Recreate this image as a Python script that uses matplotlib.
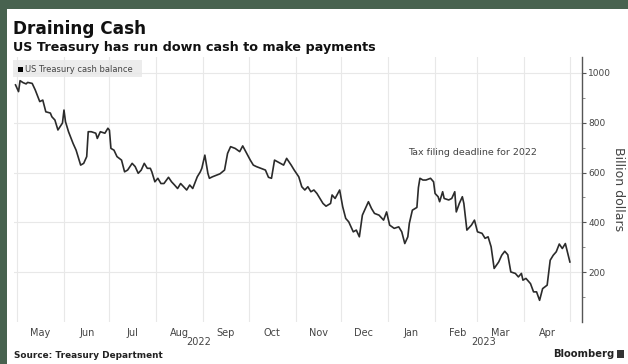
import matplotlib
matplotlib.use("Agg")
import matplotlib.pyplot as plt
import matplotlib.dates as mdates
import matplotlib.ticker as mticker
from matplotlib.patches import Rectangle
from matplotlib.transforms import blended_transform_factory
import pandas as pd

title = "Draining Cash"
subtitle = "US Treasury has run down cash to make payments"
series_name = "US Treasury cash balance"
source = "Source: Treasury Department"
brand = "Bloomberg"
annotation = "Tax filing deadline for 2022"
y_label = "Billion dollars"

dates = [
    "2022-04-30", "2022-05-02", "2022-05-03", "2022-05-05", "2022-05-07", "2022-05-08",
    "2022-05-11", "2022-05-13", "2022-05-16", "2022-05-18", "2022-05-20", "2022-05-23",
    "2022-05-24", "2022-05-26", "2022-05-28", "2022-05-31", "2022-06-01", "2022-06-02",
    "2022-06-04", "2022-06-07", "2022-06-09", "2022-06-12", "2022-06-14", "2022-06-16",
    "2022-06-17", "2022-06-19", "2022-06-22", "2022-06-23", "2022-06-25", "2022-06-28",
    "2022-06-30", "2022-07-01", "2022-07-02", "2022-07-04", "2022-07-06", "2022-07-09",
    "2022-07-11", "2022-07-13", "2022-07-16", "2022-07-18", "2022-07-20", "2022-07-22",
    "2022-07-24", "2022-07-26", "2022-07-28", "2022-07-29", "2022-07-31", "2022-08-02",
    "2022-08-04", "2022-08-06", "2022-08-09", "2022-08-11", "2022-08-13", "2022-08-15",
    "2022-08-17", "2022-08-19", "2022-08-21", "2022-08-23", "2022-08-25", "2022-08-28",
    "2022-08-30", "2022-08-31", "2022-09-02", "2022-09-04", "2022-09-05", "2022-09-07",
    "2022-09-10", "2022-09-12", "2022-09-15", "2022-09-17", "2022-09-19", "2022-09-22",
    "2022-09-25", "2022-09-27", "2022-09-29", "2022-10-02", "2022-10-04", "2022-10-06",
    "2022-10-09", "2022-10-12", "2022-10-14", "2022-10-16", "2022-10-18", "2022-10-22",
    "2022-10-24", "2022-10-26", "2022-10-29", "2022-10-31", "2022-11-03", "2022-11-05",
    "2022-11-07", "2022-11-09", "2022-11-11", "2022-11-13", "2022-11-15", "2022-11-17",
    "2022-11-19", "2022-11-21", "2022-11-24", "2022-11-25", "2022-11-27", "2022-11-30",
    "2022-12-02", "2022-12-04", "2022-12-06", "2022-12-09", "2022-12-11", "2022-12-13",
    "2022-12-15", "2022-12-19", "2022-12-21", "2022-12-23", "2022-12-26", "2022-12-29",
    "2022-12-31", "2023-01-02", "2023-01-05", "2023-01-08", "2023-01-10", "2023-01-12",
    "2023-01-14", "2023-01-15", "2023-01-17", "2023-01-20", "2023-01-21", "2023-01-22",
    "2023-01-24", "2023-01-26", "2023-01-29", "2023-01-31", "2023-02-01", "2023-02-03",
    "2023-02-04", "2023-02-06", "2023-02-07", "2023-02-10", "2023-02-12", "2023-02-14",
    "2023-02-15", "2023-02-17", "2023-02-19", "2023-02-20", "2023-02-22", "2023-02-25",
    "2023-02-27", "2023-03-01", "2023-03-04", "2023-03-06", "2023-03-08", "2023-03-10",
    "2023-03-12", "2023-03-15", "2023-03-17", "2023-03-19", "2023-03-21", "2023-03-22",
    "2023-03-23", "2023-03-26", "2023-03-28", "2023-03-30", "2023-03-31", "2023-04-02",
    "2023-04-05", "2023-04-07", "2023-04-09", "2023-04-11", "2023-04-13", "2023-04-16",
    "2023-04-18", "2023-04-20", "2023-04-22", "2023-04-24", "2023-04-26", "2023-04-28",
    "2023-05-01",
]
values = [
    952, 925, 969, 961, 956, 962,
    958, 932, 885, 891, 844, 839,
    824, 811, 771, 799, 851, 804,
    764, 717, 690, 630, 637, 664,
    764, 764, 758, 737, 764, 758,
    778, 770, 697, 690, 664, 650,
    603, 610, 637, 624, 597, 610,
    637, 617, 617, 603, 563, 577,
    556, 556, 581, 563, 550, 536,
    556, 543, 530, 550, 536, 583,
    603, 617, 670, 597, 577, 583,
    590, 595, 610, 677, 704, 697,
    684, 707, 684, 650, 630, 624,
    617, 610, 581, 577, 650, 637,
    630, 657, 630, 610, 583, 543,
    530, 543, 523, 530, 516, 496,
    476, 465, 476, 510, 496, 530,
    463, 416, 402, 362, 369, 342,
    429, 483, 456, 436, 429, 409,
    442, 389, 376, 382, 362, 315,
    342, 396, 449, 460, 540, 577,
    570, 570, 577, 563, 516, 503,
    483, 523, 496, 490, 496, 523,
    442, 476, 503, 476, 369, 389,
    409, 362, 356, 336, 342, 302,
    215, 241, 268, 284, 270, 235,
    201, 195, 181, 195, 168, 175,
    154, 121, 121, 87, 134, 148,
    248, 268, 282, 313, 295, 315,
    241,
]
y_ticks = [200, 400, 600, 800, 1000]
y_minor_ticks = [100, 300, 500, 700, 900]
year_labels = ["2022", "2023"]
year_label_dates = ["2022-08-29", "2023-03-05"]
x_range = ["2022-04-29", "2023-05-09"]
y_range = [0, 1064]

W, H = 628, 364
fig = plt.figure(figsize=(W / 100, H / 100), dpi=100)
fig.patch.set_facecolor("#48624f")
fig.patches.append(Rectangle((7 / W, 0), 1, 1 - 9 / H, transform=fig.transFigure,
                             facecolor="white", edgecolor="none", zorder=-5))

ax = fig.add_axes([14 / W, 1 - 322 / H, (582 - 14) / W, (322 - 57) / H])
ax.set_facecolor("none")
ax.set_zorder(1)

x = pd.to_datetime(dates)
ax.plot(x, values, color="#2b2b2b", lw=1.2, solid_joinstyle="round", zorder=3)

ax.set_xlim(pd.Timestamp(x_range[0]), pd.Timestamp(x_range[1]))
ax.set_ylim(*y_range)

# y axis on right
ax.yaxis.tick_right()
ax.set_yticks(y_ticks)
ax.set_yticks(y_minor_ticks, minor=True)
ax.yaxis.set_major_formatter(mticker.FuncFormatter(lambda v, p: f"{int(v)}"))
ax.tick_params(axis="y", which="major", direction="out", length=3, width=0.8,
               color="#555555", labelsize=6.5, labelcolor="#444444", pad=1.5)
ax.tick_params(axis="y", which="minor", direction="out", length=2, width=0.6,
               color="#777777")

# x axis: gridlines at month starts, labels mid-month
ax.xaxis.set_major_locator(mdates.MonthLocator(bymonthday=1))
ax.xaxis.set_major_formatter(mticker.NullFormatter())
ax.xaxis.set_minor_locator(mdates.MonthLocator(bymonthday=16))
ax.xaxis.set_minor_formatter(mdates.DateFormatter("%b"))
ax.tick_params(axis="x", which="both", length=0, labelsize=7, labelcolor="#444444", pad=4)
for lbl in ax.get_xticklabels(minor=True):
    lbl.set_family(["Liberation Sans Narrow", "DejaVu Sans"])

ax.grid(True, which="major", axis="both", color="#e8e8e8", lw=0.8, zorder=0)

for s in ["top", "left", "bottom"]:
    ax.spines[s].set_visible(False)
ax.spines["right"].set_color("#555555")
ax.spines["right"].set_linewidth(1.0)

ax.yaxis.set_label_position("right")
ax.set_ylabel(y_label, rotation=270, fontsize=9, color="#444444", labelpad=10)

# year labels
trans = blended_transform_factory(ax.transData, fig.transFigure)
for lab, d in zip(year_labels, year_label_dates):
    ax.text(pd.Timestamp(d), 1 - 342 / H, lab, transform=trans, ha="center", va="center",
            fontsize=7, color="#444444", family=["Liberation Sans Narrow", "DejaVu Sans"],
            clip_on=False)

# annotation
ax.text(pd.Timestamp("2023-01-14"), 682, annotation, ha="left", va="center",
        fontsize=6.8, color="#444444")

# legend box
fig.patches.append(Rectangle((13 / W, 1 - 77 / H), 129 / W, 17 / H, transform=fig.transFigure,
                             facecolor="#ececec", edgecolor="none", zorder=-1))
fig.patches.append(Rectangle((18 / W, 1 - 71.5 / H), 5 / W, 5 / H, transform=fig.transFigure,
                             facecolor="black", edgecolor="none", zorder=2))
fig.text(25 / W, 1 - 69 / H, series_name, ha="left", va="center", fontsize=6, color="#444444",
         zorder=2)

# titles
fig.text(13 / W, 1 - 29 / H, title, ha="left", va="center", fontsize=12.2,
         fontweight="bold", color="#111111")
fig.text(13 / W, 1 - 47 / H, subtitle, ha="left", va="center", fontsize=9.2,
         fontweight="bold", color="#111111")

# footer
fig.text(14 / W, 1 - 355 / H, source, ha="left", va="center", fontsize=6.4,
         fontweight="bold", color="#222222")
fig.text(614 / W, 1 - 354 / H, brand, ha="right", va="center", fontsize=7.2,
         fontweight="bold", color="#222222")
fig.patches.append(Rectangle((617 / W, 1 - 358 / H), 7 / W, 8 / H, transform=fig.transFigure,
                             facecolor="#333333", edgecolor="none", zorder=2))

fig.savefig("out.png", dpi=100, facecolor=fig.get_facecolor())
